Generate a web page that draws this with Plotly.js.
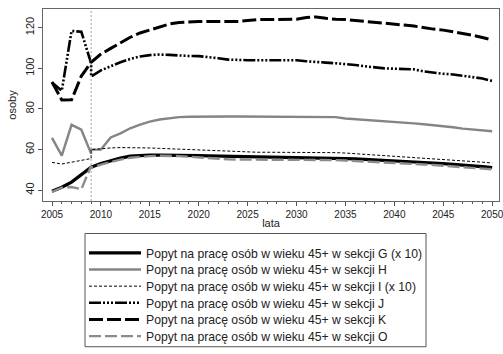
<!DOCTYPE html>
<html>
<head>
<meta charset="utf-8">
<script src="https://cdn.plot.ly/plotly-3.0.1.min.js"></script>
<style>html,body{margin:0;padding:0;background:#fff;}#chart{width:503px;height:354px;}</style>
</head>
<body>
<div id="chart"></div>
<script>
// historical years (2005-2009) followed by projection years (2009-2050)
const histYears = [2005, 2006, 2007, 2008, 2009];
const projYears = [2009,2010,2011,2012,2013,2014,2015,2016,2017,2018,2019,2020,2021,2022,2023,2024,2025,2026,2027,2028,2029,2030,2031,2032,2033,2034,2035,2036,2037,2038,2039,2040,2041,2042,2043,2044,2045,2046,2047,2048,2049,2050];

const seriesNames = [
  "Popyt na pracę osób w wieku 45+ w sekcji G (x 10)",
  "Popyt na pracę osób w wieku 45+ w sekcji H",
  "Popyt na pracę osób w wieku 45+ w sekcji I (x 10)",
  "Popyt na pracę osób w wieku 45+ w sekcji J",
  "Popyt na pracę osób w wieku 45+ w sekcji K",
  "Popyt na pracę osób w wieku 45+ w sekcji O"
];

const histG = [39.5, 41.5, 44, 47.5, 51.3];
const projG = [51.3,53.2,54.6,55.8,56.8,57.2,57.3,57.3,57.3,57.2,57.1,57,56.9,56.8,56.7,56.6,56.6,56.5,56.5,56.5,56.4,56.4,56.3,56.2,56,55.8,55.6,55.4,55.2,55,54.8,54.6,54.3,54,53.7,53.4,53.1,52.8,52.4,52,51.6,51.2];

const histH = [65.8, 57, 72.2, 69.8, 58];
const projH = [60,60,66,68,70.5,72.3,73.8,74.8,75.5,76,76.2,76.3,76.3,76.3,76.3,76.3,76.3,76.3,76.3,76.3,76.3,76.3,76.3,76.3,76.2,76,75.3,75,74.6,74.2,73.9,73.6,73.3,72.9,72.5,72.1,71.7,71,70.3,69.8,69.4,69];

const histI = [53.7, 52.9, 53.8, 54.8, 55.6];
const projI = [60,60.5,60.8,61,61,61,60.8,60.6,60.4,60.2,60,59.8,59.6,59.3,59,58.8,58.7,58.7,58.7,58.7,58.7,58.7,58.7,58.7,58.6,58.5,58.3,58,57.7,57.4,57.1,56.8,56.5,56.2,55.9,55.6,55.3,55,54.6,54.2,53.8,53.4];

const histJ = [93, 89, 118.4, 118, 102.5];
const projJ = [96,99,101.2,103,104.6,105.8,106.5,106.8,106.6,106.2,106.1,106,105.6,105,104.3,104,104,104,104,104,104,104,103.5,103,102.8,102.5,102.2,101.6,101,100.4,100,99.8,99.8,99.5,98.5,97.8,97.3,97,96.4,95.9,95,93.8];

const histK = [93.3, 84.4, 84.5, 96.2, 103];
const projK = [103,107,109.8,112.6,115.3,117.4,118.8,120.4,121.8,122.6,123,123.1,123.1,123.1,123.1,123.1,123.5,124,124,124,124,124.2,125,125.3,124.6,124.1,124,123.6,123,122.6,122.1,121.9,121.3,120.8,120,119.3,118.8,118,117.1,116.3,115.2,114];

const histO = [39.2, 41.3, 41.6, 40.5, 52];
const projO = [51,52.6,54,55.1,56,56.5,56.8,57,57,56.8,56.5,56.1,55.7,55.4,55.2,55.1,55,55,55,55,55,55,55,55,54.9,54.8,54.6,54.4,54.2,54,53.8,53.6,53.3,53,52.7,52.4,52.1,51.8,51.4,51,50.7,50.3];

const splitYear = 2009;
const yTicks = [40, 60, 80, 100, 120];
const xTicks = [2005,2010,2015,2020,2025,2030,2035,2040,2045,2050];

const hists = [histG, histH, histI, histJ, histK, histO];
const projs = [projG, projH, projI, projJ, projK, projO];
const styles = [
  {color:'#000000', width:3.2, dash:'solid'},
  {color:'#858585', width:2.4, dash:'solid'},
  {color:'#000000', width:1, dash:'3px,2px'},
  {color:'#000000', width:2.6, dash:'12px,2px,2px,2px,2px,2px,2px,2px'},
  {color:'#000000', width:3, dash:'14px,4px'},
  {color:'#8c8c8c', width:2.4, dash:'12px,4px'}
];

const W = 503, H = 354;
const M = {l:43, r:4, t:9, b:150};
const plotH = H - M.t - M.b, plotW = W - M.l - M.r;
const pyToPaper = py => (H - M.b - py) / plotH;
const pxToPaper = px => (px - M.l) / plotW;

const traces = [];
const layout = {
  width: W, height: H,
  margin: M,
  paper_bgcolor:'#fff', plot_bgcolor:'#fff',
  font: {family:'"Liberation Sans", Arial, sans-serif', size:10, color:'#222'},
  showlegend: true,
  xaxis: {
    range:[2004.08, 2050.7], tickvals: xTicks, ticks:'outside', ticklen:4, tickcolor:'#555',
    showgrid:false, zeroline:false, showline:true, mirror:true, linecolor:'#666', linewidth:1,
    tickfont:{size:10, color:'#222'}, ticklabeloverflow:'allow',
    minor:{dtick:1, tick0:2005, ticks:'outside', ticklen:2, tickcolor:'#555', showgrid:false},
    title:{text:'lata', font:{size:11, color:'#222'}, standoff:0}
  },
  yaxis: {
    range:[34.7, 129.2], tickvals: yTicks, ticks:'outside', ticklen:4, tickcolor:'#555',
    showgrid:false, zeroline:false, showline:true, mirror:true, linecolor:'#666', linewidth:1,
    tickangle:-90, tickfont:{size:11, color:'#222'}, ticklabeloverflow:'allow',
    title:{text:'osoby', font:{size:11, color:'#222'}, standoff:4}
  },
  shapes: [
    {type:'line', xref:'x', yref:'paper', x0:splitYear, x1:splitYear, y0:0, y1:1,
     line:{color:'#888', width:0.8, dash:'2px,2px'}},
    {type:'rect', xref:'paper', yref:'paper',
     x0:pxToPaper(85), x1:pxToPaper(426), y0:pyToPaper(237), y1:pyToPaper(352),
     line:{color:'#555', width:1}, fillcolor:'rgba(0,0,0,0)'}
  ]
};

for (let i = 0; i < seriesNames.length; i++) {
  const lg = i === 0 ? 'legend' : 'legend' + (i + 1);
  traces.push({
    type:'scatter', mode:'lines', name: seriesNames[i],
    x: histYears.concat(projYears), y: hists[i].concat(projs[i]),
    line: styles[i], legend: lg, hoverinfo:'skip'
  });
  layout[lg] = {
    x: pxToPaper(84), y: pyToPaper(256.7 + 16.9 * i),
    xanchor:'left', yanchor:'middle', xref:'paper', yref:'paper',
    bgcolor:'rgba(0,0,0,0)', borderwidth:0, itemwidth:52,
    font:{size:12.2, color:'#222'}
  };
}

Plotly.newPlot('chart', traces, layout, {staticPlot:true, displayModeBar:false});
</script>
</body>
</html>
